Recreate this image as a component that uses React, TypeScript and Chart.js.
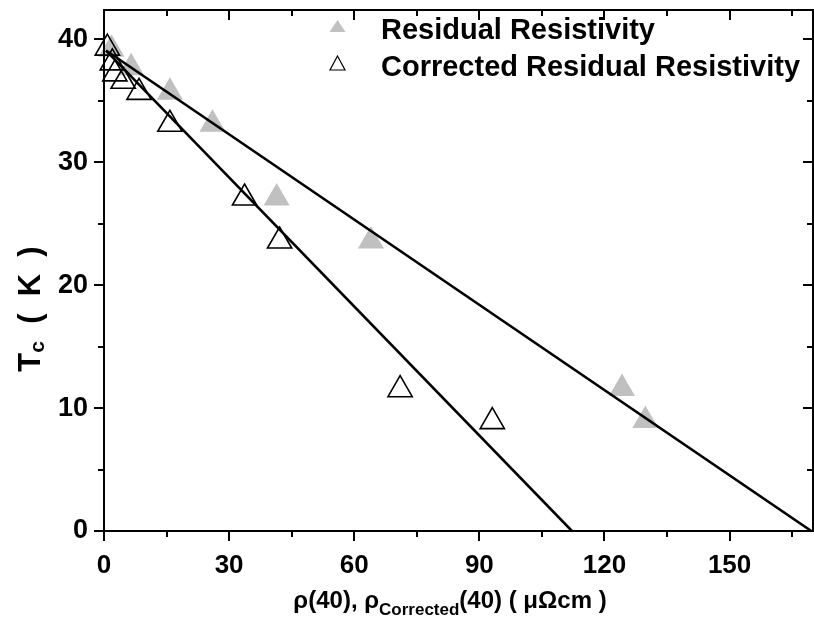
import React, { useEffect, useRef } from 'react';
import { Chart, registerables } from 'chart.js';

Chart.register(...registerables);

// ---- data ----
const rhoResidual = [1.8, 6.5, 15.8, 26.0, 41.4, 64.0, 124.2, 129.8];
const tcResidual = [39.2, 37.7, 35.7, 33.1, 27.1, 23.6, 11.6, 9.0];

const rhoCorrected = [0.8, 2.0, 2.6, 4.6, 8.4, 15.8, 33.7, 42.1, 71.0, 93.1];
const tcCorrected = [39.3, 38.1, 37.2, 36.6, 35.7, 33.1, 27.1, 23.6, 11.5, 8.9];

const fitResidualX = [0.5, 169.6];
const fitResidualY = [39.1, 0];
const fitCorrectedX = [0.5, 112.2];
const fitCorrectedY = [39.1, 0];

const xTickLabels = [0, 30, 60, 90, 120, 150];
const yTickLabels = [0, 10, 20, 30, 40];

const legendLabels = ['Residual Resistivity', 'Corrected Residual Resistivity'];
const xTitleParts = ['\u03c1(40), \u03c1', 'Corrected', '(40) ( \u03bc\u03a9cm )'];
const yTitleParts = ['T', 'c', '  (  K  )'];

const FONT = '"Liberation Sans", Arial, Helvetica, sans-serif';
const GRAY = '#c0c0c0';

const toPoints = (xs: number[], ys: number[]) => xs.map((x, i) => ({ x, y: ys[i] }));

const zeroPad = (s: any) => {
  s.paddingTop = 0;
  s.paddingBottom = 0;
  s.paddingLeft = 0;
  s.paddingRight = 0;
};

const framePlugin = {
  id: 'framePlugin',
  afterDatasetsDraw(chart: any) {
    const { ctx, chartArea: a, scales } = chart;
    const xs = scales.x;
    const ys = scales.y;
    const seg = (x1: number, y1: number, x2: number, y2: number) => {
      ctx.beginPath();
      ctx.moveTo(x1, y1);
      ctx.lineTo(x2, y2);
      ctx.stroke();
    };
    ctx.save();
    ctx.strokeStyle = '#000';
    ctx.lineWidth = 2;
    ctx.strokeRect(a.left, a.top, a.right - a.left, a.bottom - a.top);
    // x ticks every 15: outward at bottom, inward at top
    for (let v = 0; v <= xs.max; v += 15) {
      const px = Math.round(xs.getPixelForValue(v));
      const len = v % 30 === 0 ? 10 : 6;
      seg(px, a.bottom, px, a.bottom + len);
      seg(px, a.top, px, a.top + len);
    }
    // y ticks every 5: outward at left, inward at right
    for (let v = 0; v <= ys.max; v += 5) {
      const py = Math.round(ys.getPixelForValue(v));
      const len = v % 10 === 0 ? 10 : 6;
      seg(a.left - len, py, a.left, py);
      seg(a.right - len, py, a.right, py);
    }

    // x title with subscript
    ctx.fillStyle = '#000';
    ctx.textBaseline = 'alphabetic';
    ctx.textAlign = 'left';
    const big = `bold 24px ${FONT}`;
    const small = `bold 17px ${FONT}`;
    ctx.font = big;
    const w0 = ctx.measureText(xTitleParts[0]).width;
    const w2 = ctx.measureText(xTitleParts[2]).width;
    ctx.font = small;
    const w1 = ctx.measureText(xTitleParts[1]).width;
    const total = w0 + w1 + w2;
    let tx = 450 - total / 2;
    const ty = 608;
    ctx.font = big;
    ctx.fillText(xTitleParts[0], tx, ty);
    tx += w0;
    ctx.font = small;
    ctx.fillText(xTitleParts[1], tx, ty + 7);
    tx += w1;
    ctx.font = big;
    ctx.fillText(xTitleParts[2], tx, ty);

    // y title rotated with subscript
    ctx.save();
    ctx.translate(40, 309);
    ctx.rotate(-Math.PI / 2);
    const yBig = `bold 31px ${FONT}`;
    const ySmall = `bold 21px ${FONT}`;
    ctx.font = yBig;
    const v0 = ctx.measureText(yTitleParts[0]).width;
    const v2 = ctx.measureText(yTitleParts[2]).width;
    ctx.font = ySmall;
    const v1 = ctx.measureText(yTitleParts[1]).width;
    let yx = -(v0 + v1 + v2) / 2;
    ctx.font = yBig;
    ctx.fillText(yTitleParts[0], yx, 0);
    yx += v0;
    ctx.font = ySmall;
    ctx.fillText(yTitleParts[1], yx, 4);
    yx += v1;
    ctx.font = yBig;
    ctx.fillText(yTitleParts[2], yx, 0);
    ctx.restore();

    // legend
    ctx.fillStyle = GRAY;
    ctx.beginPath();
    ctx.moveTo(337.5, 20);
    ctx.lineTo(345.5, 32);
    ctx.lineTo(329.5, 32);
    ctx.closePath();
    ctx.fill();
    ctx.strokeStyle = '#000';
    ctx.lineWidth = 1.2;
    ctx.beginPath();
    ctx.moveTo(337.5, 56);
    ctx.lineTo(345, 70);
    ctx.lineTo(330, 70);
    ctx.closePath();
    ctx.stroke();
    ctx.fillStyle = '#000';
    ctx.font = `bold 29px ${FONT}`;
    ctx.fillText(legendLabels[0], 381, 38.5);
    ctx.fillText(legendLabels[1], 381, 75.5);
    ctx.restore();
  },
};

export default function App() {
  const canvasRef = useRef<HTMLCanvasElement | null>(null);

  useEffect(() => {
    document.body.style.margin = '0';
    const canvas = canvasRef.current;
    if (!canvas) return;
    const chart = new Chart(canvas, {
      type: 'scatter',
      data: {
        datasets: [
          {
            label: 'fit residual',
            data: toPoints(fitResidualX, fitResidualY),
            showLine: true,
            borderColor: '#000',
            borderWidth: 2.6,
            pointRadius: 0,
            pointHoverRadius: 0,
          },
          {
            label: 'fit corrected',
            data: toPoints(fitCorrectedX, fitCorrectedY),
            showLine: true,
            borderColor: '#000',
            borderWidth: 2.6,
            pointRadius: 0,
            pointHoverRadius: 0,
          },
          {
            label: legendLabels[1],
            data: toPoints(rhoCorrected, tcCorrected),
            pointStyle: 'triangle',
            pointRadius: 14,
            pointBorderWidth: 1.6,
            borderColor: '#000',
            backgroundColor: 'rgba(0,0,0,0)',
            clip: false,
          },
          {
            label: legendLabels[0],
            data: toPoints(rhoResidual, tcResidual),
            pointStyle: 'triangle',
            pointRadius: 15,
            pointBorderWidth: 0,
            borderColor: GRAY,
            backgroundColor: GRAY,
            clip: false,
          },
        ],
      },
      options: {
        responsive: false,
        animation: false,
        events: [],
        layout: { autoPadding: false, padding: { top: 10, right: 1, left: 0, bottom: 0 } },
        plugins: {
          legend: { display: false },
          tooltip: { enabled: false },
        },
        scales: {
          x: {
            type: 'linear',
            min: 0,
            max: 170,
            afterFit: (s: any) => {
              s.height = 94;
              zeroPad(s);
            },
            grid: { display: false, drawTicks: false },
            border: { display: false },
            ticks: {
              stepSize: 30,
              includeBounds: false,
              padding: 19,
              color: '#000',
              font: { family: FONT, size: 26, weight: 'bold' },
              maxRotation: 0,
              callback: (v: any) => (xTickLabels.includes(Number(v)) ? String(v) : ''),
            },
          },
          y: {
            type: 'linear',
            min: 0,
            max: 42.4,
            afterFit: (s: any) => {
              s.width = 104;
              zeroPad(s);
            },
            grid: { display: false, drawTicks: false },
            border: { display: false },
            ticks: {
              stepSize: 10,
              includeBounds: false,
              padding: 16,
              color: '#000',
              font: { family: FONT, size: 27, weight: 'bold' },
              callback: (v: any) => (yTickLabels.includes(Number(v)) ? String(v) : ''),
            },
          },
        },
      },
      plugins: [framePlugin],
    });
    return () => chart.destroy();
  }, []);

  return (
    <div style={{ width: 814, height: 625, background: '#fff' }}>
      <canvas ref={canvasRef} width={814} height={625} style={{ display: 'block' }} />
    </div>
  );
}
